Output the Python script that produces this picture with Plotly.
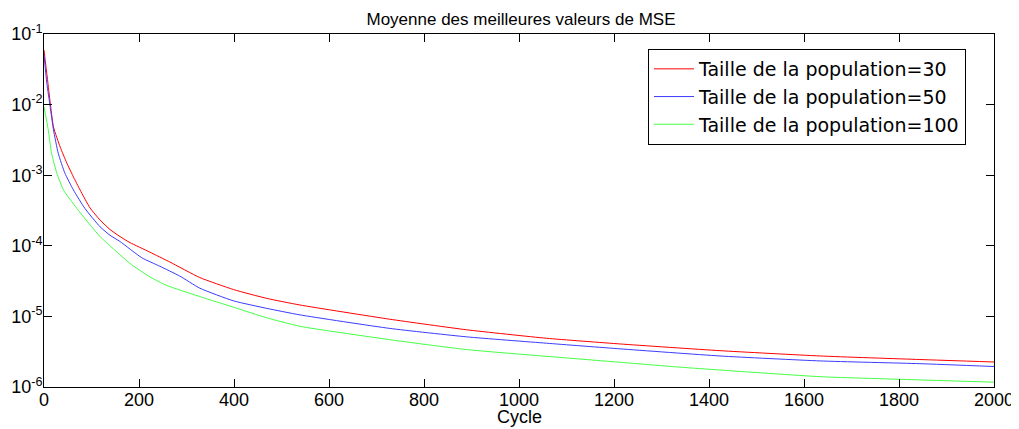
import plotly.graph_objects as go

# Cycle positions and mean best MSE values
cycle_30 = [0, 7, 20, 34, 48, 62, 76, 97, 118, 139, 160, 181, 223, 265, 328, 399, 469,
            539, 728, 890, 1058, 1213, 1423, 1634, 1844, 2000]
mse_30 = [0.0593, 0.0238, 0.00482, 0.00251, 0.00149, 0.000944, 0.000617, 0.000343,
          0.000232, 0.000170, 0.000135, 0.000111, 8.13e-5, 5.89e-5, 3.55e-5, 2.40e-5,
          1.80e-5, 1.45e-5, 9.12e-6, 6.46e-6, 4.90e-6, 4.07e-6, 3.27e-6, 2.75e-6,
          2.45e-6, 2.26e-6]

cycle_50 = [0, 6, 13, 20, 30, 44, 62, 86, 118, 139, 160, 206, 244, 286, 328, 399, 469,
            539, 728, 890, 1058, 1213, 1423, 1634, 1844, 2000]
mse_50 = [0.0501, 0.0200, 0.00933, 0.00437, 0.00204, 0.00107, 0.000617, 0.000339,
          0.000186, 0.000141, 0.000115, 6.76e-5, 5.13e-5, 3.72e-5, 2.51e-5, 1.66e-5,
          1.30e-5, 1.05e-5, 6.76e-6, 5.13e-6, 4.17e-6, 3.47e-6, 2.75e-6, 2.34e-6,
          2.14e-6, 1.95e-6]

cycle_100 = [0, 9, 16, 27, 41, 69, 118, 149, 181, 223, 258, 328, 399, 469, 539, 728,
             890, 1213, 1339, 1423, 1634, 1844, 2000]
mse_100 = [0.00933, 0.00437, 0.00204, 0.00107, 0.000617, 0.000339, 0.000135, 8.71e-5,
           5.62e-5, 3.63e-5, 2.75e-5, 1.91e-5, 1.35e-5, 9.55e-6, 7.24e-6, 4.68e-6,
           3.39e-6, 2.24e-6, 1.91e-6, 1.74e-6, 1.40e-6, 1.26e-6, 1.17e-6]

names = ["Taille de la population=30", "Taille de la population=50",
         "Taille de la population=100"]
colors = ["#ff0000", "#3b3bff", "#44ff44"]

# Y-axis decade ticks and their labels
y_tick_vals = [1e-6, 1e-5, 1e-4, 1e-3, 1e-2, 1e-1]
y_tick_text = ["10<sup>-6</sup>", "10<sup>-5</sup>", "10<sup>-4</sup>",
               "10<sup>-3</sup>", "10<sup>-2</sup>", "10<sup>-1</sup>"]
# Minor log tick positions (2..9 in each decade)
minor_ticks = [m * 10.0 ** e for e in range(-6, -1) for m in range(2, 10)]

fig = go.Figure()
for xs, ys, nm, c in zip([cycle_30, cycle_50, cycle_100], [mse_30, mse_50, mse_100],
                         names, colors):
    fig.add_trace(go.Scatter(x=xs, y=ys, mode="lines", name=nm,
                             line=dict(color=c, width=1, shape="spline", smoothing=0.5)))

font = "Liberation Sans, Arial, sans-serif"
# the page adds an 8px body margin, so the figure is 8px smaller than the window
fig.update_layout(
    width=1011, height=421,
    margin=dict(l=36, r=25, t=26, b=42),
    paper_bgcolor="white", plot_bgcolor="white",
    font=dict(family=font, size=18, color="black"),
    title=dict(text="Moyenne des meilleures valeurs de MSE", x=0.5074, xanchor="center",
               y=0.974, yanchor="middle", font=dict(size=17, family=font, color="black")),
    showlegend=True,
    legend=dict(x=0.9705, y=0.9575, xanchor="right", yanchor="top",
                bgcolor="white", bordercolor="black", borderwidth=1,
                font=dict(size=19, family="DejaVu Sans, Liberation Sans, sans-serif",
                          color="black"),
                tracegroupgap=0, itemwidth=40),
    yaxis2=dict(type="log", range=[-6, -1], overlaying="y", side="left",
                tickvals=minor_ticks, ticks="inside", ticklen=4, tickcolor="black",
                showticklabels=False, showgrid=False, zeroline=False,
                showline=True, linecolor="black", mirror="ticks", automargin=False),
    annotations=[dict(text="Cycle", xref="paper", yref="paper", x=0.5, y=-0.085,
                      xanchor="center", yanchor="middle", showarrow=False,
                      font=dict(size=18, family=font, color="black"))],
)
fig.update_xaxes(
    range=[0, 2000], dtick=200, tick0=0, automargin=False,
    showline=True, linecolor="black", linewidth=1, mirror="ticks",
    ticks="inside", ticklen=8, tickcolor="black", showgrid=False, zeroline=False,
    tickfont=dict(size=18, family=font), ticklabelstandoff=-4,
)
fig.layout.yaxis.update(type="log", range=[-6, -1], tickvals=y_tick_vals,
                        ticktext=y_tick_text,
                        automargin=False, showline=True, linecolor="black",
                        mirror="ticks", ticks="inside", ticklen=8, tickcolor="black",
                        showgrid=False, zeroline=False, ticklabelstandoff=-3,
                        tickfont=dict(size=18, family=font))

fig.write_html("out.html")
